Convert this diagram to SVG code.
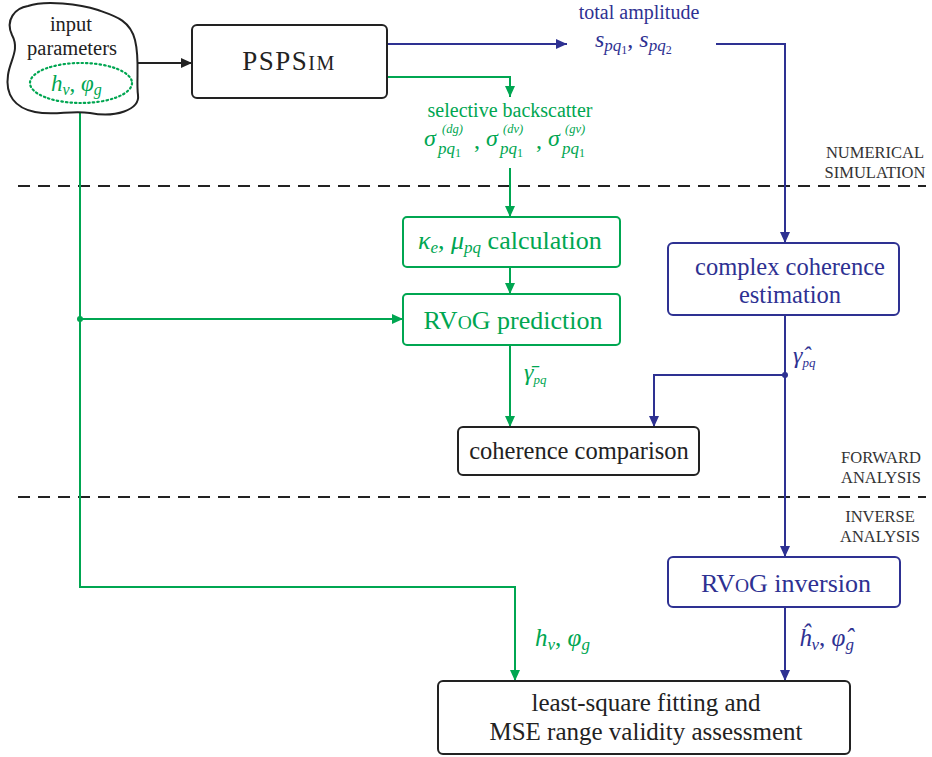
<svg xmlns="http://www.w3.org/2000/svg" width="932" height="757" viewBox="0 0 932 757">
<style>
.g{fill:#00a651}.b{fill:#2e3192}.k{fill:#222}
.box{fill:#fff;stroke-width:2}
.gs{stroke:#00a651}.bs{stroke:#2e3192}.ks{stroke:#222}
.ln{fill:none;stroke-width:2}
.side{fill:#333}
</style>
<defs>
<marker id="ak" markerUnits="userSpaceOnUse" markerWidth="11" markerHeight="10" refX="11" refY="5" orient="auto"><path d="M0,0 L11,5 L0,10 z" fill="#222"/></marker>
<marker id="ab" markerUnits="userSpaceOnUse" markerWidth="11" markerHeight="10" refX="11" refY="5" orient="auto"><path d="M0,0 L11,5 L0,10 z" fill="#2e3192"/></marker>
<marker id="ag" markerUnits="userSpaceOnUse" markerWidth="11" markerHeight="10" refX="11" refY="5" orient="auto"><path d="M0,0 L11,5 L0,10 z" fill="#00a651"/></marker>
</defs>
<rect width="932" height="757" fill="#fff"/>

<g id="separators" stroke="#222" stroke-width="2" stroke-dasharray="12 8">
<line x1="18" y1="186" x2="926" y2="186"/>
<line x1="18" y1="497" x2="926" y2="497"/>
</g>
<g id="section-labels">
<text class="side" style="font-family:'Liberation Serif',serif;font-size:16.5px" text-anchor="middle" x="875" y="158">NUMERICAL</text>
<text class="side" style="font-family:'Liberation Serif',serif;font-size:16.5px" text-anchor="middle" x="875" y="178">SIMULATION</text>
<text class="side" style="font-family:'Liberation Serif',serif;font-size:16.5px" text-anchor="middle" x="881" y="463">FORWARD</text>
<text class="side" style="font-family:'Liberation Serif',serif;font-size:16.5px" text-anchor="middle" x="881" y="483">ANALYSIS</text>
<text class="side" style="font-family:'Liberation Serif',serif;font-size:16.5px" text-anchor="middle" x="880" y="522">INVERSE</text>
<text class="side" style="font-family:'Liberation Serif',serif;font-size:16.5px" text-anchor="middle" x="880" y="542">ANALYSIS</text>
</g>

<g id="connectors">
<path class="ln ks" d="M137 63 H192" marker-end="url(#ak)"/>
<path class="ln bs" d="M387 44 H567" marker-end="url(#ab)"/>
<path class="ln bs" d="M716 44 H785 V243" marker-end="url(#ab)"/>
<path class="ln bs" d="M785 315 V557" marker-end="url(#ab)"/>
<path class="ln bs" d="M785 375 H654 V427" marker-end="url(#ab)"/>
<path class="ln bs" d="M785 607 V681" marker-end="url(#ab)"/>
<path class="ln gs" d="M387 77 H510 V97" marker-end="url(#ag)"/>
<path class="ln gs" d="M510 168 V217" marker-end="url(#ag)"/>
<path class="ln gs" d="M510 267 V294" marker-end="url(#ag)"/>
<path class="ln gs" d="M510 345 V427" marker-end="url(#ag)"/>
<path class="ln gs" d="M80 104 V587 H515 V681" marker-end="url(#ag)"/>
<path class="ln gs" d="M80 319 H403" marker-end="url(#ag)"/>
<circle cx="80" cy="319" r="3" fill="#00a651"/>
<circle cx="785" cy="375" r="3" fill="#2e3192"/>
</g>

<g id="input">
<path d="M28 6 C45 0,80 4,98 10 C115 16,130 20,135 40 C140 60,136 80,138 95 C140 110,115 118,90 113 C70 110,55 116,35 112 C15 108,5 95,8 75 C10 60,20 50,12 35 C5 20,15 8,28 6 Z" fill="#fff" stroke="#222" stroke-width="2"/>
<ellipse cx="81" cy="83" rx="51" ry="20" fill="none" stroke="#00a651" stroke-width="2.2" stroke-dasharray="1.5 3" stroke-linecap="round"/>
<text class="k" style="font-family:'Liberation Serif',serif;font-size:20.5px" text-anchor="middle" x="71" y="31">input</text>
<text class="k" style="font-family:'Liberation Serif',serif;font-size:20.5px" text-anchor="middle" x="72" y="55">parameters</text>
<text class="g" style="font-family:'Liberation Serif',serif;font-size:23px;font-style:italic" x="51" y="91">h<tspan font-size="16" dy="4">v</tspan><tspan dy="-4" font-style="normal">, </tspan>φ<tspan font-size="16" dy="4">g</tspan></text>
</g>

<g id="pspsim">
<rect class="box ks" x="192" y="25" width="195" height="73" rx="5"/>
<text class="k" style="font-family:'Liberation Serif',serif;font-size:27px;letter-spacing:1.5px" text-anchor="middle" x="289" y="70">PSPS<tspan font-size="20">IM</tspan></text>
</g>

<g id="total-amplitude">
<text class="b" style="font-family:'Liberation Serif',serif;font-size:20px" text-anchor="middle" x="639" y="19">total amplitude</text>
<text class="b" style="font-family:'Liberation Serif',serif;font-size:24px;font-style:italic" x="595" y="47">s<tspan font-size="17" dy="4">pq</tspan><tspan font-size="12" dy="3" font-style="normal">1</tspan><tspan dy="-7" font-style="normal">, </tspan>s<tspan font-size="17" dy="4">pq</tspan><tspan font-size="12" dy="3" font-style="normal">2</tspan></text>
</g>

<g id="selective-backscatter">
<text class="g" style="font-family:'Liberation Serif',serif;font-size:20px" text-anchor="middle" x="510" y="117">selective backscatter</text>
<text class="g" style="font-family:'Liberation Serif',serif;font-size:24px;font-style:italic" x="424" y="146">σ</text>
<text class="g" style="font-family:'Liberation Serif',serif;font-size:12.5px;font-style:italic" x="442" y="133">(dg)</text>
<text class="g" style="font-family:'Liberation Serif',serif;font-size:17px;font-style:italic" x="438" y="154">pq<tspan font-size="12" dy="3" font-style="normal">1</tspan></text>
<text class="g" style="font-family:'Liberation Serif',serif;font-size:24px" x="474" y="148">,</text>
<text class="g" style="font-family:'Liberation Serif',serif;font-size:24px;font-style:italic" x="486" y="146">σ</text>
<text class="g" style="font-family:'Liberation Serif',serif;font-size:12.5px;font-style:italic" x="503" y="133">(dv)</text>
<text class="g" style="font-family:'Liberation Serif',serif;font-size:17px;font-style:italic" x="500" y="154">pq<tspan font-size="12" dy="3" font-style="normal">1</tspan></text>
<text class="g" style="font-family:'Liberation Serif',serif;font-size:24px" x="536" y="148">,</text>
<text class="g" style="font-family:'Liberation Serif',serif;font-size:24px;font-style:italic" x="548" y="146">σ</text>
<text class="g" style="font-family:'Liberation Serif',serif;font-size:12.5px;font-style:italic" x="565" y="133">(gv)</text>
<text class="g" style="font-family:'Liberation Serif',serif;font-size:17px;font-style:italic" x="562" y="154">pq<tspan font-size="12" dy="3" font-style="normal">1</tspan></text>
</g>

<g id="kappa-calc">
<rect class="box gs" x="403" y="217" width="217" height="50" rx="4"/>
<text class="g" style="font-family:'Liberation Serif',serif;font-size:26px" x="418" y="249"><tspan font-style="italic">κ</tspan><tspan font-style="italic" font-size="17" dy="4">e</tspan><tspan dy="-4">, </tspan><tspan font-style="italic">μ</tspan><tspan font-style="italic" font-size="17" dy="4">pq</tspan><tspan dy="-4"> calculation</tspan></text>
</g>

<g id="rvog-prediction">
<rect class="box gs" x="403" y="294" width="217" height="51" rx="4"/>
<text class="g" style="font-family:'Liberation Serif',serif;font-size:26px" text-anchor="middle" x="513" y="329">RV<tspan font-size="19.5">O</tspan>G prediction</text>
</g>
<text id="gamma-bar" class="g" style="font-family:'Liberation Serif',serif;font-size:24px;font-style:italic" x="524" y="380">γ̄<tspan font-size="13" dy="4">pq</tspan></text>

<g id="complex-coherence">
<rect class="box bs" x="668" y="243" width="231" height="72" rx="5"/>
<text class="b" style="font-family:'Liberation Serif',serif;font-size:24.5px" text-anchor="middle" x="790" y="275">complex coherence</text>
<text class="b" style="font-family:'Liberation Serif',serif;font-size:24.5px" text-anchor="middle" x="790" y="303">estimation</text>
</g>
<text id="gamma-hat" class="b" style="font-family:'Liberation Serif',serif;font-size:24px;font-style:italic" x="793" y="363">γ̂<tspan font-size="13" dy="4">pq</tspan></text>

<g id="coherence-comparison">
<rect class="box ks" x="458" y="427" width="241" height="48" rx="5"/>
<text class="k" style="font-family:'Liberation Serif',serif;font-size:24.5px" text-anchor="middle" x="579" y="459">coherence comparison</text>
</g>

<g id="rvog-inversion">
<rect class="box bs" x="668" y="557" width="232" height="50" rx="5"/>
<text class="b" style="font-family:'Liberation Serif',serif;font-size:26px" text-anchor="middle" x="786" y="592">RV<tspan font-size="19.5">O</tspan>G inversion</text>
</g>

<text id="true-params" class="g" style="font-family:'Liberation Serif',serif;font-size:25px;font-style:italic" x="535" y="646">h<tspan font-size="17" dy="4">v</tspan><tspan dy="-4" font-style="normal">, </tspan>φ<tspan font-size="17" dy="4">g</tspan></text>
<text id="est-params" class="b" style="font-family:'Liberation Serif',serif;font-size:25px;font-style:italic" x="799" y="646">ĥ<tspan font-size="17" dy="4">v</tspan><tspan dy="-4" font-style="normal">, </tspan>φ̂<tspan font-size="17" dy="4">g</tspan></text>

<g id="least-square">
<rect class="box ks" x="438" y="681" width="412" height="73" rx="5"/>
<text class="k" style="font-family:'Liberation Serif',serif;font-size:25px" text-anchor="middle" x="646" y="711">least-square fitting and</text>
<text class="k" style="font-family:'Liberation Serif',serif;font-size:25px" text-anchor="middle" x="646" y="740">MSE range validity assessment</text>
</g>
</svg>
